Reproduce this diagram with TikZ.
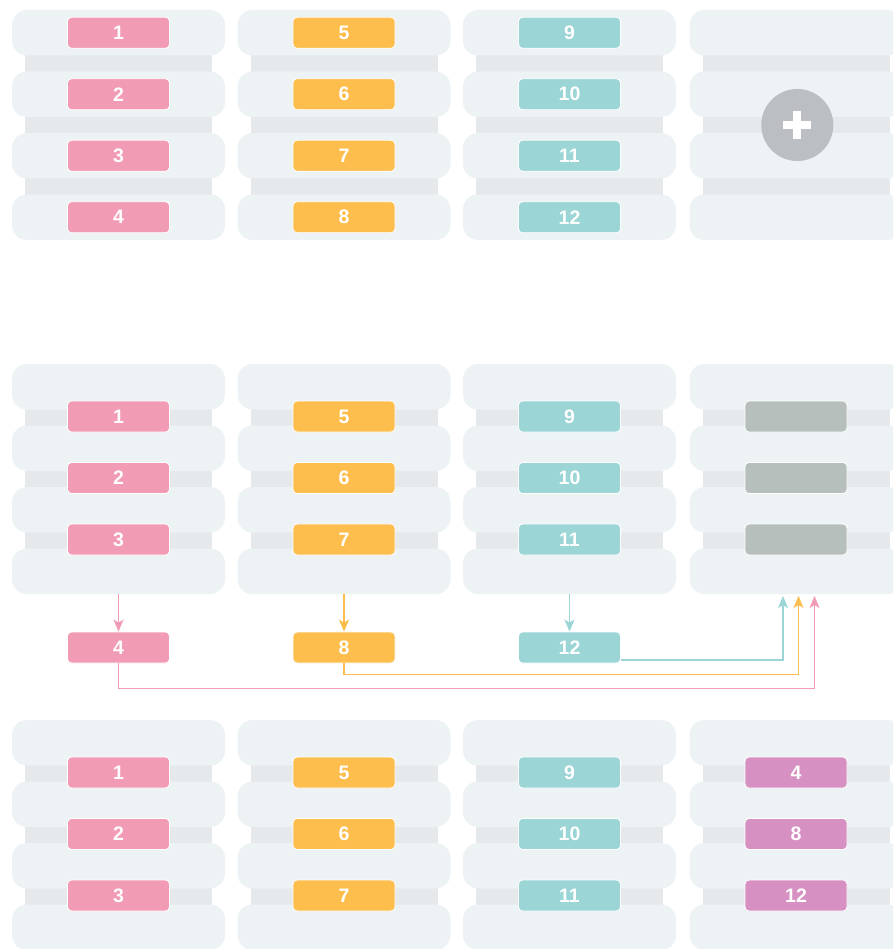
\documentclass[tikz,border=0pt]{standalone}
\usepackage{fontspec}
\setmainfont{Liberation Sans}
\usetikzlibrary{arrows.meta,calc}
\definecolor{slabc}{HTML}{EDF2F5}
\definecolor{stripc}{HTML}{E5E9EC}
\definecolor{pinkc}{HTML}{F29BB5}
\definecolor{yellc}{HTML}{FDBE4E}
\definecolor{tealc}{HTML}{9BD5D6}
\definecolor{grayc}{HTML}{B7BFBD}
\definecolor{purpc}{HTML}{D690C1}
\definecolor{plusc}{HTML}{BBBFC3}
\begin{document}
\begin{tikzpicture}[x=1pt,y=-1pt,
  slabbox/.style={fill=slabc, rounded corners=15pt, minimum width=213pt, minimum height=45.5pt, inner sep=0pt, draw=none},
  tag/.style={rounded corners=4pt, draw=white, line width=0.8pt, minimum width=102pt, minimum height=31pt, inner sep=0pt, text=white, font=\bfseries\fontsize{19.5}{19.5}\selectfont},
  pinktag/.style={tag, fill=pinkc},
  yelltag/.style={tag, fill=yellc},
  tealtag/.style={tag, fill=tealc},
  graytag/.style={tag, fill=grayc},
  purptag/.style={tag, fill=purpc},
  flow/.style={line width=1.3pt, -{Stealth[length=12pt,width=10pt,inset=3pt]}},
]
\clip (0,0) rectangle (893,949);
\fill[white] (0,0) rectangle (893,949);
% stacks
\foreach \r/\yy in {a/10, b/364, c/720} {
  \foreach \c/\xx in {1/12, 2/237.5, 3/463, 4/689.5} {
    \fill[stripc] ({\xx+13},{\yy+22}) rectangle ({\xx+200},{\yy+3*61.5+22});
    \foreach \k in {1,...,4}
      \node[slabbox] (s\r\c\k) at ({\xx+106.5},{\yy+22.75+(\k-1)*61.5}) {};
  }
}
% top row labels
\foreach \k/\t in {1/1,2/2,3/3,4/4} \node[pinktag] (ta1\k) at (sa1\k) {\t};
\foreach \k/\t in {1/5,2/6,3/7,4/8} \node[yelltag] (ta2\k) at (sa2\k) {\t};
\foreach \k/\t in {1/9,2/10,3/11,4/12} \node[tealtag] (ta3\k) at (sa3\k) {\t};
\node[circle, fill=plusc, minimum size=72pt, inner sep=0pt] (plus) at (797.3,125) {};
\fill[white] ($(plus)+(-14,-4)$) rectangle ($(plus)+(14,4)$);
\fill[white] ($(plus)+(-4,-14)$) rectangle ($(plus)+(4,14)$);
% middle row labels
\foreach \k/\t in {1/1,2/2,3/3} \node[pinktag] (tb1\k) at (118.5,{364+52.5+(\k-1)*61.5}) {\t};
\foreach \k/\t in {1/5,2/6,3/7} \node[yelltag] (tb2\k) at (344,{364+52.5+(\k-1)*61.5}) {\t};
\foreach \k/\t in {1/9,2/10,3/11} \node[tealtag] (tb3\k) at (569.5,{364+52.5+(\k-1)*61.5}) {\t};
\foreach \k in {1,2,3} \node[graytag] (tb4\k) at (796,{364+52.5+(\k-1)*61.5}) {};
% moved labels
\node[pinktag] (m4) at (118.5,647.5) {4};
\node[yelltag] (m8) at (344,647.5) {8};
\node[tealtag] (m12) at (569.5,647.5) {12};
\draw[flow, pinkc] (sb14.south) -- (m4.north);
\draw[flow, yellc] (sb24.south) -- (m8.north);
\draw[flow, tealc] (sb34.south) -- (m12.north);
\coordinate (tipC) at (783,596);
\coordinate (tipY) at (798.5,596);
\coordinate (tipP) at (814.5,596);
\draw[flow, tealc] ($(m12.east)+(0,12.5)$) -| (tipC);
\draw[flow, yellc] (m8.south) -- ++(0,11) -| (tipY);
\draw[flow, pinkc] (m4.south) -- ++(0,25) -| (tipP);
% bottom row labels
\foreach \k/\t in {1/1,2/2,3/3} \node[pinktag] (tc1\k) at (118.5,{720+52.5+(\k-1)*61.5}) {\t};
\foreach \k/\t in {1/5,2/6,3/7} \node[yelltag] (tc2\k) at (344,{720+52.5+(\k-1)*61.5}) {\t};
\foreach \k/\t in {1/9,2/10,3/11} \node[tealtag] (tc3\k) at (569.5,{720+52.5+(\k-1)*61.5}) {\t};
\foreach \k/\t in {1/4,2/8,3/12} \node[purptag] (tc4\k) at (796,{720+52.5+(\k-1)*61.5}) {\t};
\end{tikzpicture}
\end{document}
